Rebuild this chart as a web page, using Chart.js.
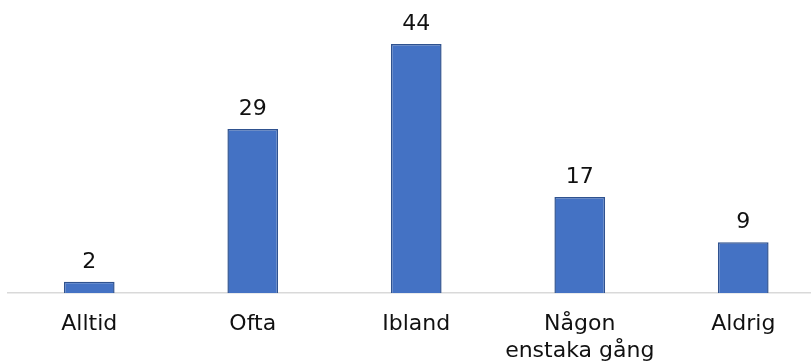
<!DOCTYPE html>
<html>
<head>
<meta charset="utf-8">
<script src="https://cdn.jsdelivr.net/npm/chart.js@4.4.1/dist/chart.umd.min.js"></script>
<style>
  html, body { margin: 0; padding: 0; background: #fff; overflow: hidden; }
  .wrap { position: relative; width: 830px; height: 374px; }
</style>
</head>
<body>
<div class="wrap"><canvas id="chart" width="830" height="374"></canvas></div>
<script>
const categories = ["Alltid", "Ofta", "Ibland", ["Någon", "enstaka gång"], "Aldrig"];
const answers = [2, 29, 44, 17, 9];

const FONT = "'DejaVu Sans', Verdana, sans-serif";

/* value above each bar, placed from the bar element itself */
const valueLabels = {
  id: "valueLabels",
  afterDatasetsDraw(chart) {
    const ctx = chart.ctx;
    const meta = chart.getDatasetMeta(0);
    ctx.save();
    ctx.font = "22px " + FONT;
    ctx.fillStyle = "#111";
    ctx.textAlign = "center";
    ctx.textBaseline = "alphabetic";
    meta.data.forEach((bar, i) => {
      ctx.fillText(String(answers[i]), bar.x, bar.y - 14);
    });
    ctx.restore();
  }
};

new Chart(document.getElementById("chart"), {
  type: "bar",
  data: {
    labels: categories,
    datasets: [{
      data: answers,
      backgroundColor: "#4472C4",
      borderColor: "#2F528F",
      borderWidth: 1.5,
      barPercentage: 0.31,
      categoryPercentage: 1
    }]
  },
  options: {
    responsive: false,
    animation: false,
    layout: { padding: { left: 7.5, right: 5, top: 10, bottom: 0 } },
    plugins: { legend: { display: false }, tooltip: { enabled: false } },
    scales: {
      x: {
        grid: { display: false },
        border: { display: true, color: "#d9d9d9", width: 1.5 },
        ticks: {
          color: "#111",
          font: { family: FONT, size: 22 },
          padding: 10,
          maxRotation: 0,
          autoSkip: false
        }
      },
      y: {
        display: false,
        min: 0,
        max: 50
      }
    }
  },
  plugins: [valueLabels]
});
</script>
</body>
</html>
